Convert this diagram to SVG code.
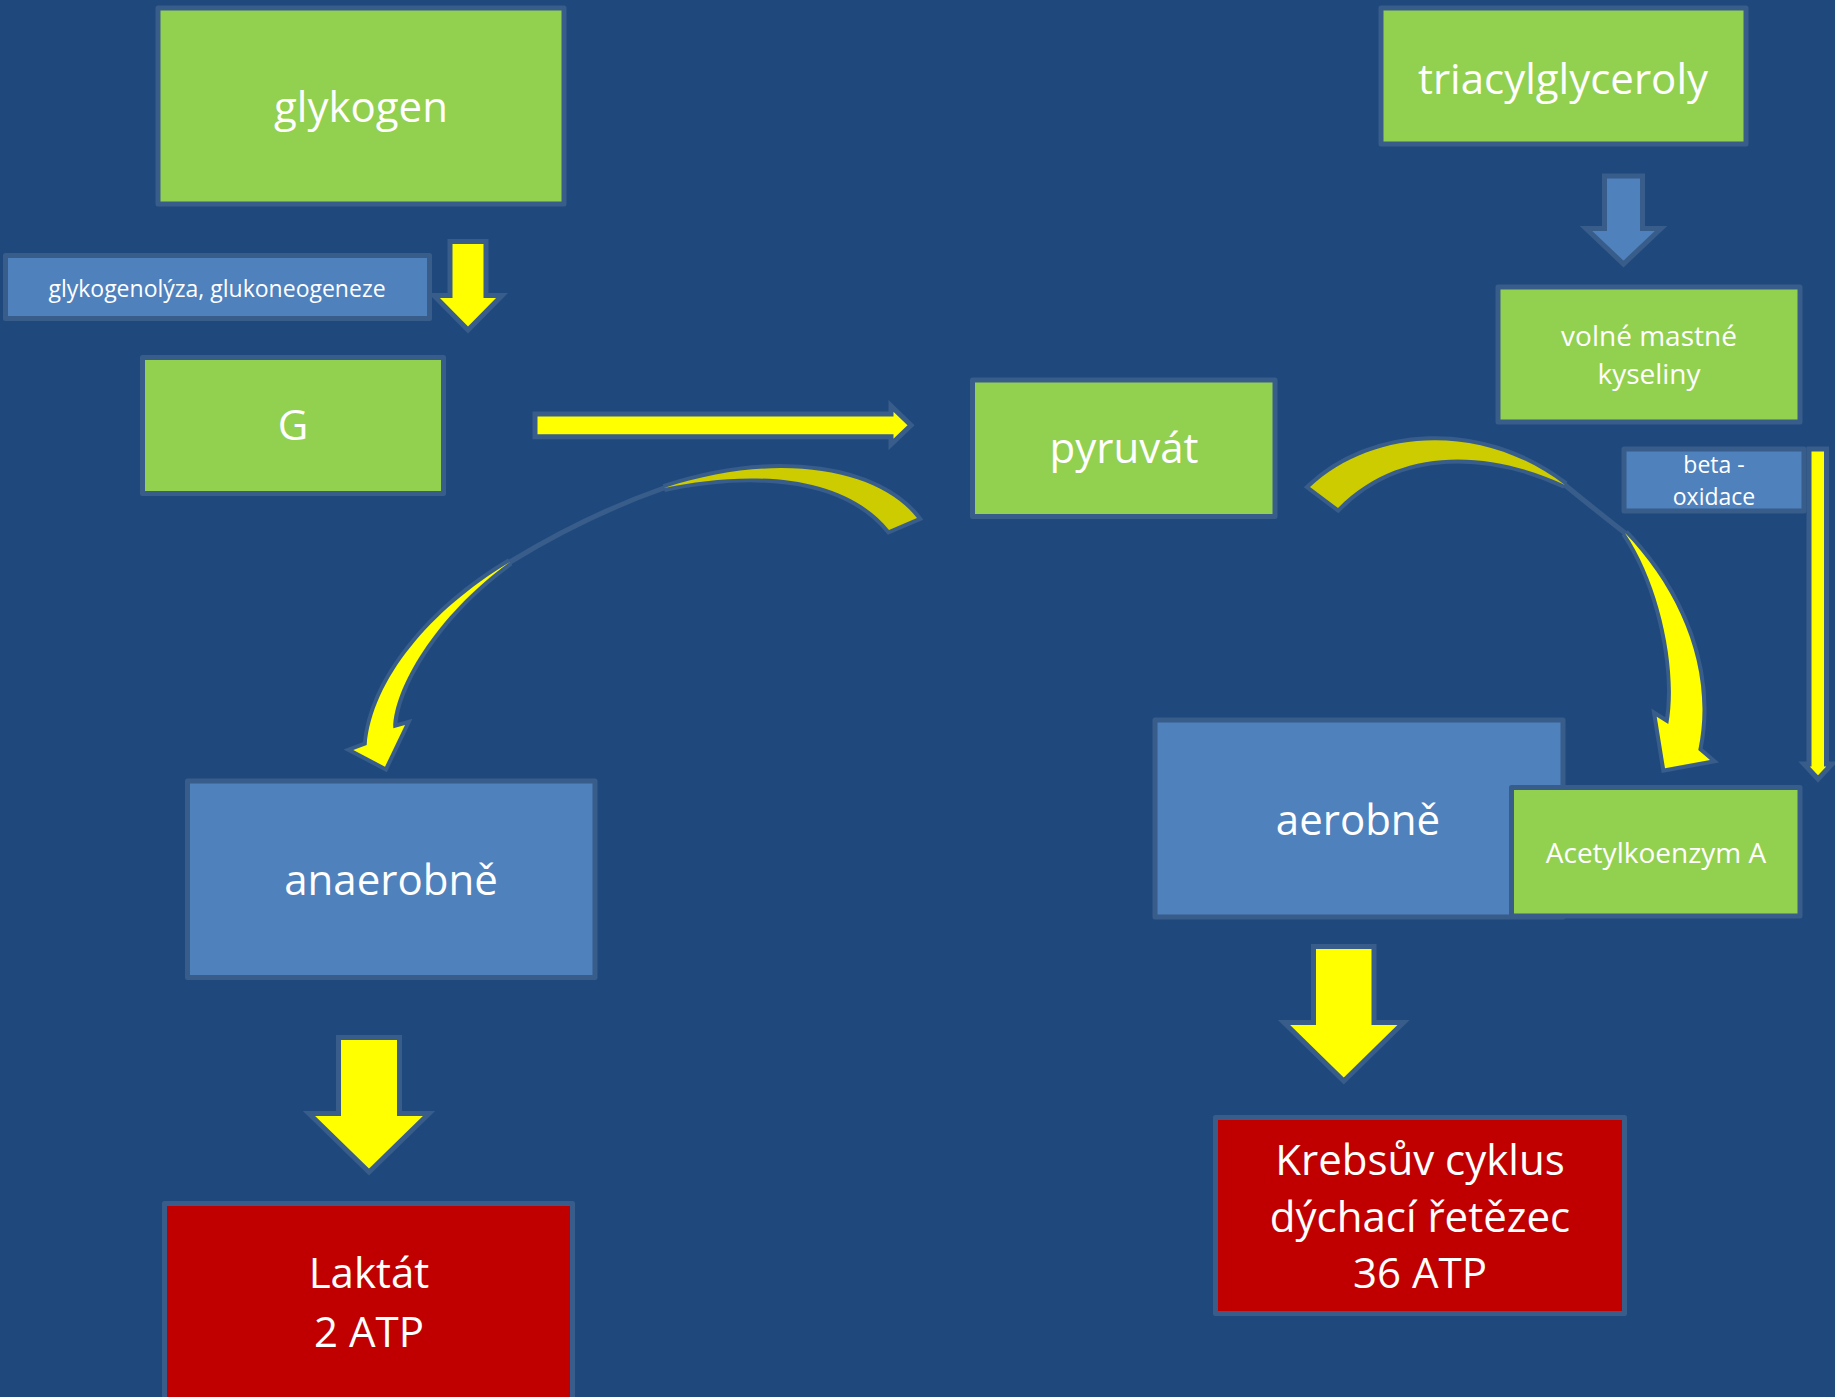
<svg xmlns="http://www.w3.org/2000/svg" width="1835" height="1397" viewBox="0 0 1835 1397">
  <style>
    .box { stroke: #385D8A; stroke-width: 5; stroke-linejoin: round; }
    .green { fill: #92D050; }
    .blue { fill: #4F81BD; }
    .red { fill: #C00000; }
    .t { fill: #FFFFFF; font-family: "Open Sans", "Noto Sans", "Liberation Sans", sans-serif; text-anchor: middle; }
    .big { font-size: 42px; }
    .mid { font-size: 28px; }
    .small { font-size: 23px; }
    .arr { stroke: #385D8A; stroke-width: 5; stroke-linejoin: miter; stroke-miterlimit: 10; }
    .curve { stroke: #385D8A; stroke-width: 8; stroke-linejoin: miter; stroke-miterlimit: 4; paint-order: stroke; }
    .yel { fill: #FFFF00; }
    .dyel { fill: #CCCC00; }
    .link { fill: none; stroke: #385D8A; stroke-width: 5; stroke-linecap: round; }
  </style>
  <rect width="1835" height="1397" fill="#1F497D"/>

  <g id="node-glykogen">
    <rect class="box green" x="158" y="8" width="406" height="196"/>
    <text class="t big" x="361" y="122">glykogen</text>
  </g>
  <g id="node-glykogenolyza">
    <rect class="box blue" x="5.5" y="255.5" width="424" height="63"/>
    <text class="t small" x="217" y="297">glykogenolýza, glukoneogeneze</text>
  </g>
  <g id="node-G">
    <rect class="box green" x="142.5" y="357.5" width="301" height="136"/>
    <text class="t big" x="293" y="440">G</text>
  </g>
  <g id="node-pyruvat">
    <rect class="box green" x="972.5" y="380" width="302.5" height="136.5"/>
    <text class="t big" x="1124" y="463">pyruvát</text>
  </g>
  <g id="node-triacylglyceroly">
    <rect class="box green" x="1381" y="8" width="365" height="136"/>
    <text class="t big" x="1563" y="94">triacylglyceroly</text>
  </g>
  <g id="node-volne">
    <rect class="box green" x="1498" y="287" width="302" height="135"/>
    <text class="t mid" x="1649" y="346">volné mastné</text>
    <text class="t mid" x="1649" y="384">kyseliny</text>
  </g>
  <g id="node-beta">
    <rect class="box blue" x="1624" y="449" width="180" height="62"/>
    <text class="t small" x="1714" y="473">beta -</text>
    <text class="t small" x="1714" y="505">oxidace</text>
  </g>
  <g id="node-aerobne">
    <rect class="box blue" x="1155" y="720" width="408" height="197"/>
    <text class="t big" x="1358" y="835">aerobně</text>
  </g>
  <g id="node-acetyl">
    <rect class="box green" x="1511.5" y="787.5" width="288.5" height="128.5"/>
    <text class="t mid" x="1656" y="863">Acetylkoenzym A</text>
  </g>
  <g id="node-anaerobne">
    <rect class="box blue" x="187.5" y="781" width="407.5" height="196.5"/>
    <text class="t big" x="391" y="895">anaerobně</text>
  </g>
  <g id="node-laktat">
    <rect class="box red" x="164.5" y="1203.5" width="408" height="210"/>
    <text class="t big" x="369" y="1288">Laktát</text>
    <text class="t big" x="369" y="1347">2 ATP</text>
  </g>
  <g id="node-krebs">
    <rect class="box red" x="1215.5" y="1117.5" width="409" height="196"/>
    <text class="t big" x="1420" y="1175">Krebsův cyklus</text>
    <text class="t big" x="1420" y="1232">dýchací řetězec</text>
    <text class="t big" x="1420" y="1288">36 ATP</text>
  </g>

  <g id="connectors">
    <!-- glykogen -> G -->
    <polygon class="arr yel" points="450,241.5 486,241.5 486,295.5 502,295.5 468,330 434,295.5 450,295.5"/>
    <!-- G -> pyruvat -->
    <polygon class="arr yel" points="535,414 891,414 891,406 911,425.3 891,444.5 891,436.7 535,436.7"/>
    <!-- triacylglyceroly -> volne -->
    <polygon class="arr blue" points="1604.5,176 1642.5,176 1642.5,228.5 1661,228.5 1623.5,264 1586,228.5 1604.5,228.5"/>
    <!-- beta-oxidace -> acetyl -->
    <polygon class="arr yel" points="1809,449 1826.5,449 1826.5,764 1832,764 1818,779 1804,764 1809,764"/>
    <!-- pyruvat -> anaerobne (curved) -->
    <path class="link" d="M664,488 Q587,515 510,562"/>
    <path class="curve dyel" d="M917,518 C880,470 780,450 664,488 C740,472 840,470 889,530 Z"/>
    <path class="curve yel" d="M510,562 C430,610 372,680 366.7,745 L353.3,750 L385,766.7 L405,725 L393.3,728.3 C393,690 435,616 510,562 Z"/>
    <!-- pyruvat -> aerobne / acetyl (curved) -->
    <path class="link" d="M1565,485 Q1588,504 1625,533"/>
    <path class="curve dyel" d="M1310,487 C1370,430 1480,420 1565,485 C1490,450 1400,445 1338,508 Z"/>
    <path class="curve yel" d="M1625,533 C1680,590 1715,670 1698.3,750 L1710,760 L1665,768.3 L1656.7,716.7 L1668.3,724 C1678,670 1660,585 1625,533 Z"/>
    <!-- anaerobne -> laktat -->
    <polygon class="arr yel" points="338.5,1037.5 399.5,1037.5 399.5,1113.5 429,1113.5 369,1172 309,1113.5 338.5,1113.5"/>
    <!-- aerobne -> krebs -->
    <polygon class="arr yel" points="1313.5,946.5 1374,946.5 1374,1022.5 1403.5,1022.5 1343.75,1081 1284,1022.5 1313.5,1022.5"/>
  </g>
</svg>
